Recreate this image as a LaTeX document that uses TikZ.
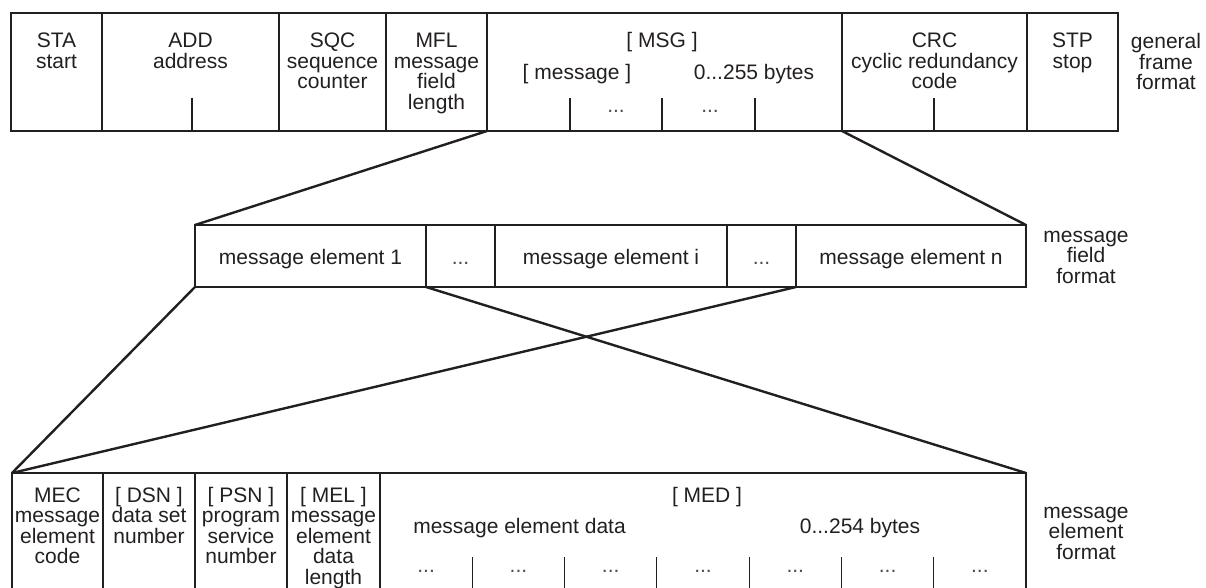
\documentclass[tikz,border=0pt]{standalone}
\usepackage{fontspec}
\setmainfont{Liberation Sans}
\definecolor{ink}{RGB}{35,31,32}
\begin{document}
\begin{tikzpicture}[x=1pt,y=-1pt,
  frm/.style={rectangle,draw=none,inner sep=0pt,outer sep=0pt,anchor=north west},
  boxline/.style={draw=ink,line width=2.4pt},
  divline/.style={draw=ink,line width=1.2pt},
  conn/.style={draw=ink,line width=2.4pt,line join=round},
  lbl/.style={text=ink,font=\fontsize{21}{20.5}\selectfont,align=center,inner sep=0pt,anchor=base},
  dots/.style={lbl,text=ink!80}]
\useasboundingbox (0,0) rectangle (1206,588);
% note: anchor=base of a multi-line node lies on its last line's baseline
% ---------------- general frame format ----------------
\node[frm,minimum width=1107pt,minimum height=118pt] (gf) at (11,13) {};
\foreach \x in {102,279,386,487,842,1027} \draw[divline] (\x,13) -- (\x,131);
\foreach \x in {192,570,662,755,934} \draw[divline] (\x,98) -- (\x,131);
\draw[boxline] (gf.north west) rectangle (gf.south east);
\coordinate (msgL) at (487,131);
\coordinate (crcL) at (842,131);
\node[lbl] (sta) at (56.5,68.5) {STA\\start};
\node[lbl] (add) at (190.5,68.5) {ADD\\address};
\node[lbl] (sqc) at (332.5,89) {SQC\\sequence\\counter};
\node[lbl] (mfl) at (436.5,109.5) {MFL\\message\\field\\length};
\node[lbl] (msg) at (662,48) {[ MSG ]};
\node[lbl] (msgn) at (577,80) {[ message ]};
\node[lbl] (msgb) at (754,80) {0...255 bytes};
\node[dots] (msgd1) at (616,113) {...};
\node[dots] (msgd2) at (710,113) {...};
\node[lbl] (crc) at (934.5,89) {CRC\\cyclic redundancy\\code};
\node[lbl] (stp) at (1072.5,68.5) {STP\\stop};
\node[lbl] (gff) at (1166,90) {general\\frame\\format};
% ---------------- message field format ----------------
\node[frm,minimum width=831pt,minimum height=62pt] (mf) at (195,225) {};
\foreach \x in {426,495,727,796} \draw[divline] (\x,225) -- (\x,287);
\draw[boxline] (mf.north west) rectangle (mf.south east);
\coordinate (me1R) at (426,287);
\coordinate (meiR) at (796,287);
\node[lbl] (me1) at (310.5,264) {message element 1};
\node[dots] (mfd1) at (460.5,264) {...};
\node[lbl] (mei) at (611,264) {message element i};
\node[dots] (mfd2) at (761.5,264) {...};
\node[lbl] (men) at (911,264) {message element n};
\node[lbl] (mff) at (1086,283) {message\\field\\format};
% ---------------- message element format ----------------
\node[frm,minimum width=1014pt,minimum height=115pt] (me) at (12,473) {};
\foreach \x in {103,195,287,380} \draw[divline] (\x,473) -- (\x,588);
\foreach \i in {1,...,6} \draw[divline] ({380+\i*646/7},557) -- ({380+\i*646/7},588);
\draw[boxline] (me.south west) -- (me.north west) -- (me.north east) -- (me.south east);
\node[lbl] (mec) at (57.5,563.5) {MEC\\message\\element\\code};
\node[lbl] (dsn) at (149,543) {[ DSN ]\\data set\\number};
\node[lbl] (psn) at (241,563.5) {[ PSN ]\\program\\service\\number};
\node[lbl] (mel) at (333.5,584) {[ MEL ]\\message\\element\\data\\length};
\node[lbl] (med) at (707,502) {[ MED ]};
\node[lbl] (medt) at (519.5,533) {message element data};
\node[lbl] (medb) at (860,533) {0...254 bytes};
\foreach \i in {0,...,6} \node[dots] (medd\i) at ({380+(\i+0.5)*646/7},572) {...};
\node[lbl] (mef) at (1086,559) {message\\element\\format};
% ---------------- connectors ----------------
\draw[conn] (msgL) -- (mf.north west);
\draw[conn] (crcL) -- (mf.north east);
\draw[conn] (mf.south west) -- (me.north west);
\draw[conn] (meiR) -- (me.north west);
\draw[conn] (me1R) -- (me.north east);
\end{tikzpicture}
\end{document}
